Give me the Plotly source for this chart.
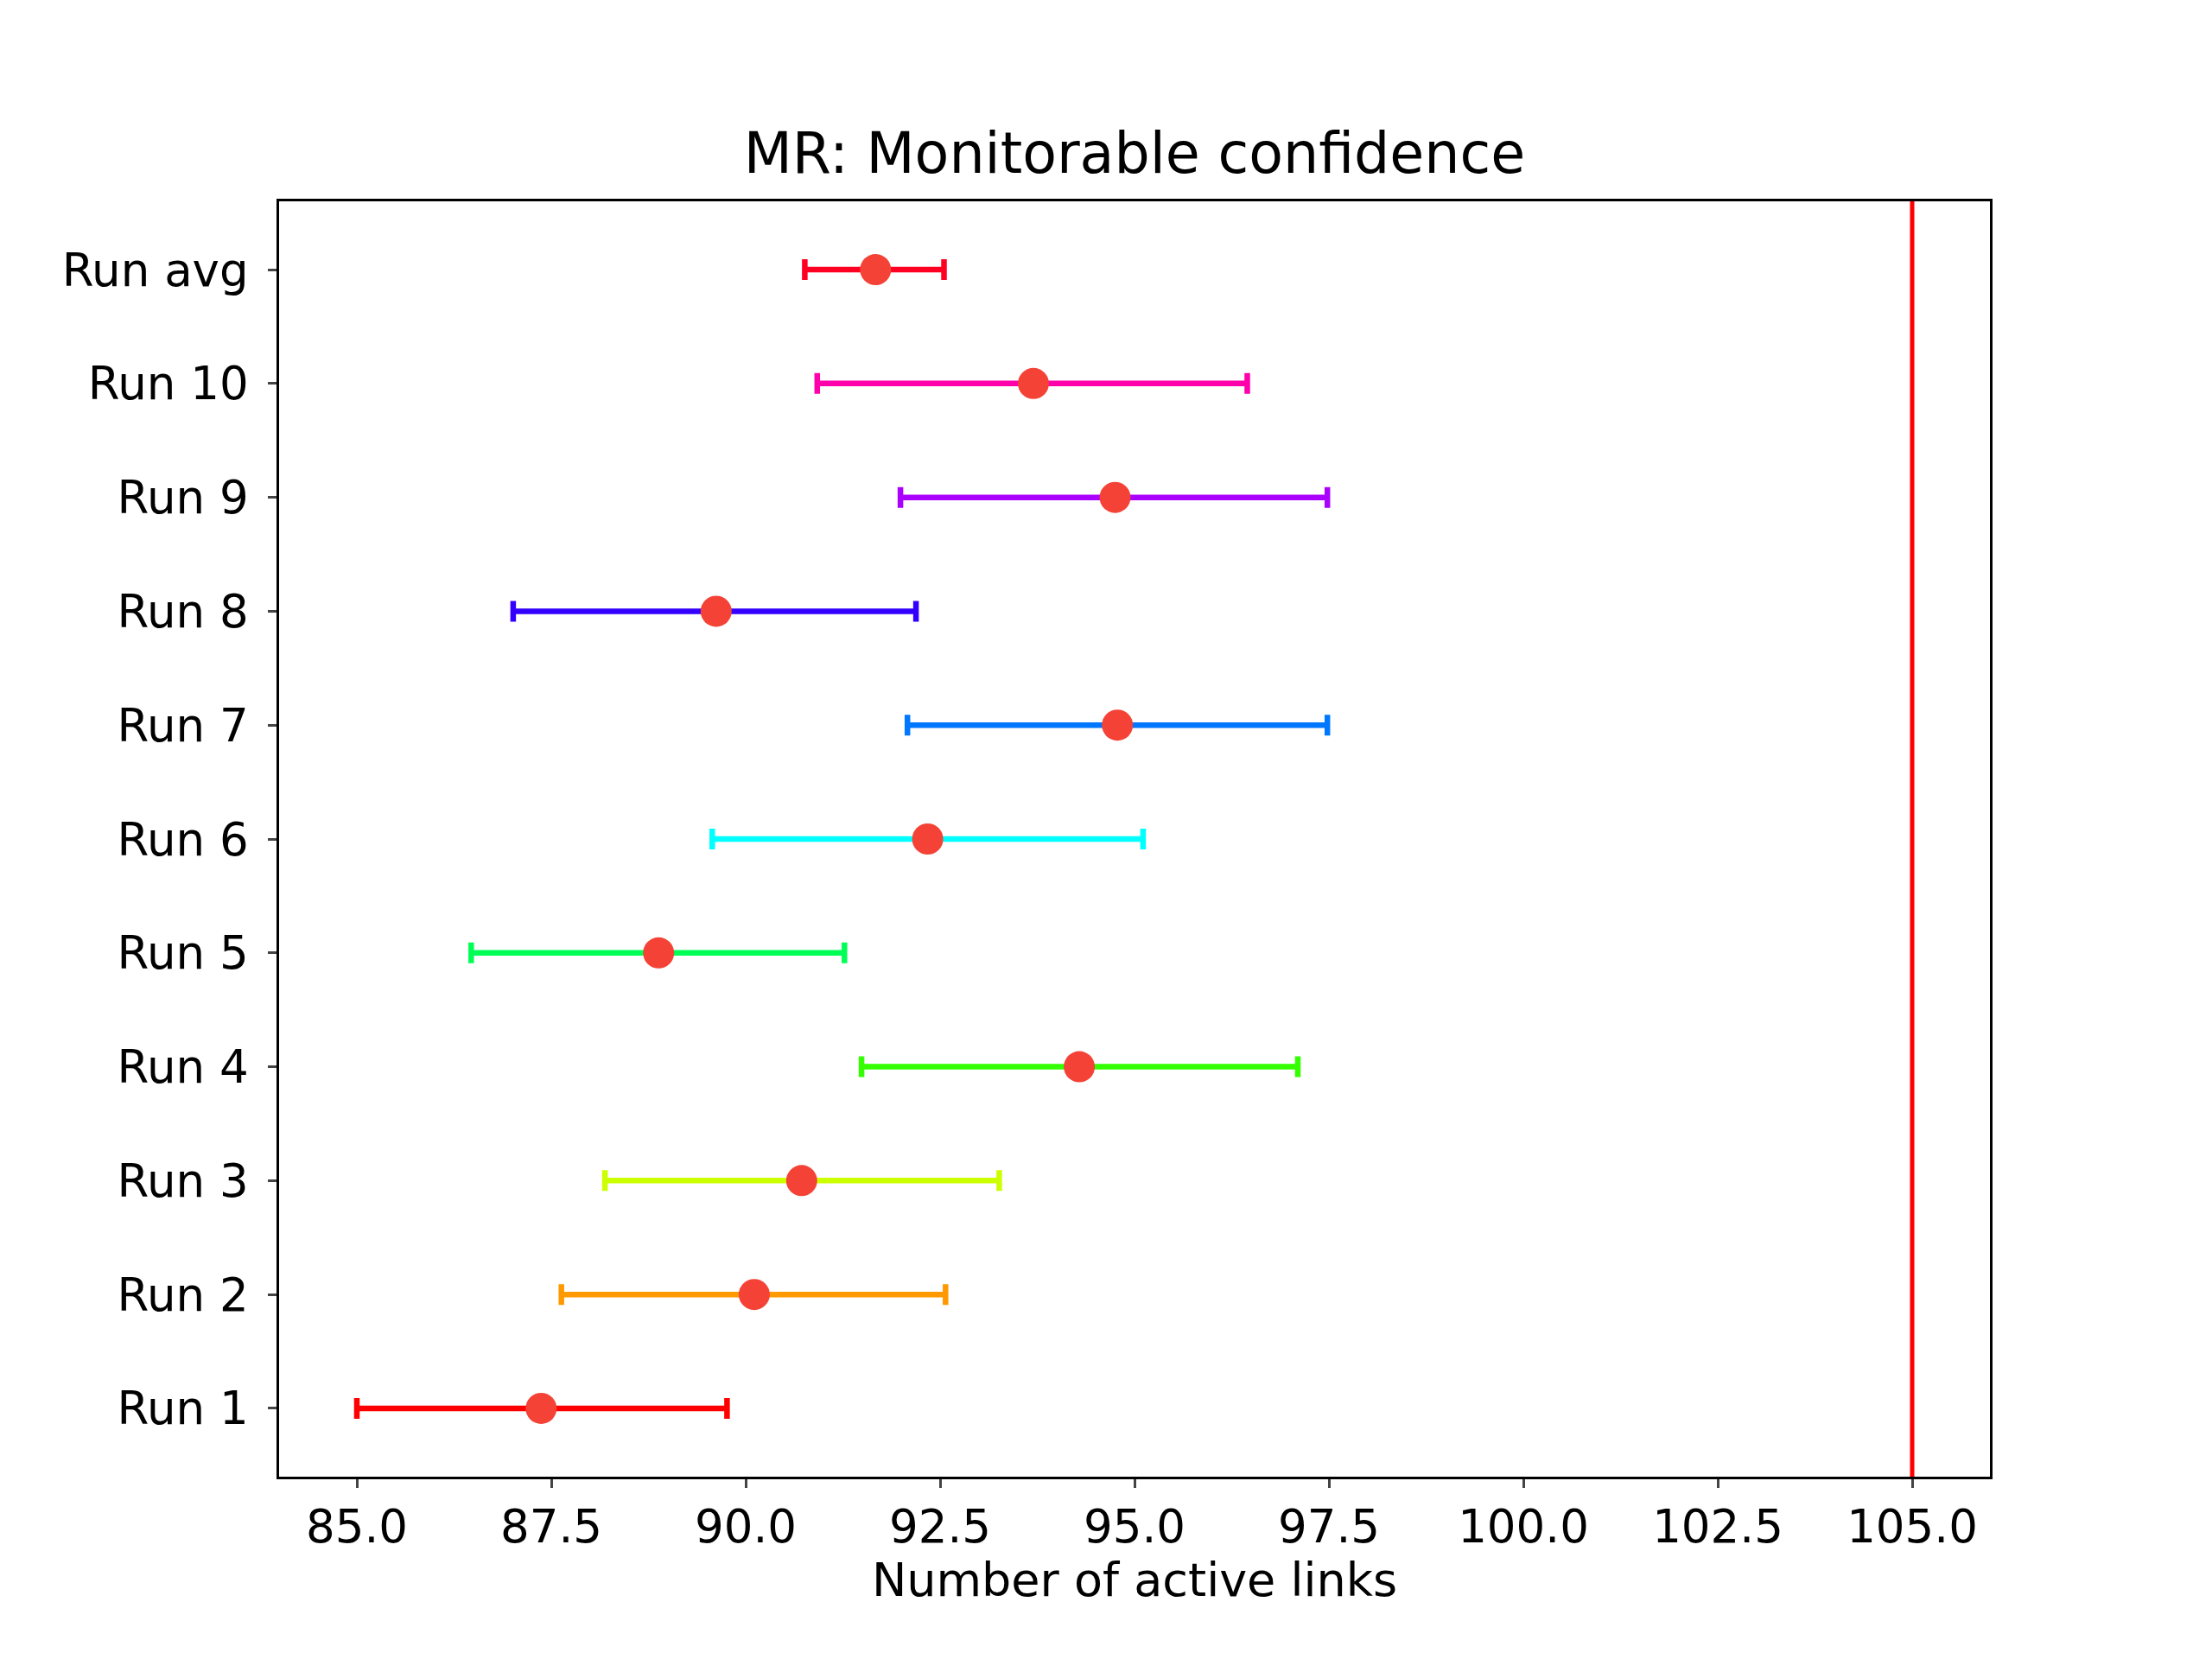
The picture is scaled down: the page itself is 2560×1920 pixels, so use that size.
import plotly.graph_objects as go

runs = ["Run 1", "Run 2", "Run 3", "Run 4", "Run 5", "Run 6", "Run 7", "Run 8", "Run 9", "Run 10", "Run avg"]
means = [87.37, 90.11, 90.72, 94.29, 88.88, 92.34, 94.78, 89.62, 94.75, 93.70, 91.67]
lows = [85.00, 87.63, 88.19, 91.49, 86.47, 89.57, 92.08, 87.01, 91.99, 90.92, 90.76]
highs = [89.76, 92.57, 93.26, 97.10, 91.27, 95.11, 97.48, 92.19, 97.48, 96.45, 92.55]
colors = ["#ff0000", "#ff9900", "#ccff00", "#33ff00", "#00ff55", "#00ffff",
          "#0077ff", "#3300ff", "#aa00ff", "#ff00aa", "#ff0022"]
threshold = 105

fig = go.Figure()
for i, r in enumerate(runs):
    fig.add_trace(go.Scatter(
        x=[means[i]], y=[i], mode="markers",
        marker=dict(color="#f44336", size=36),
        error_x=dict(type="data", symmetric=False,
                     array=[highs[i] - means[i]], arrayminus=[means[i] - lows[i]],
                     color=colors[i], thickness=6.5, width=12),
        showlegend=False))

fig.add_vline(x=threshold, line=dict(color="red", width=5))

axis = dict(showline=True, linecolor="black", linewidth=2.5, mirror=True,
            ticks="outside", ticklen=10, tickwidth=2.5, showgrid=False, zeroline=False,
            tickfont=dict(size=53, color="black"))
fig.update_xaxes(axis, range=[84.0, 106.0], tickvals=[85 + 2.5 * k for k in range(9)],
                 ticktext=["%.1f" % (85 + 2.5 * k) for k in range(9)],
                 title=dict(text="Number of active links", font=dict(size=54, color="black"), standoff=8))
fig.update_yaxes(axis, range=[-0.6, 10.6], tickvals=list(range(len(runs))), ticktext=runs,
                 ticklabelstandoff=12)

fig.add_annotation(text="Runs", xref="paper", yref="paper", x=-0.19, y=0.5,
                   textangle=-90, showarrow=False, font=dict(size=54, color="black"))

fig.update_layout(
    width=2560, height=1920,
    font=dict(family="DejaVu Sans"),
    paper_bgcolor="white", plot_bgcolor="white",
    title=dict(text="MR: Monitorable confidence", x=0.5, xref="paper", xanchor="center",
               y=0.9, yanchor="bottom", font=dict(size=65, color="black")),
    margin=dict(l=315, r=265, t=225, b=219),
)

fig.write_html("out.html")
